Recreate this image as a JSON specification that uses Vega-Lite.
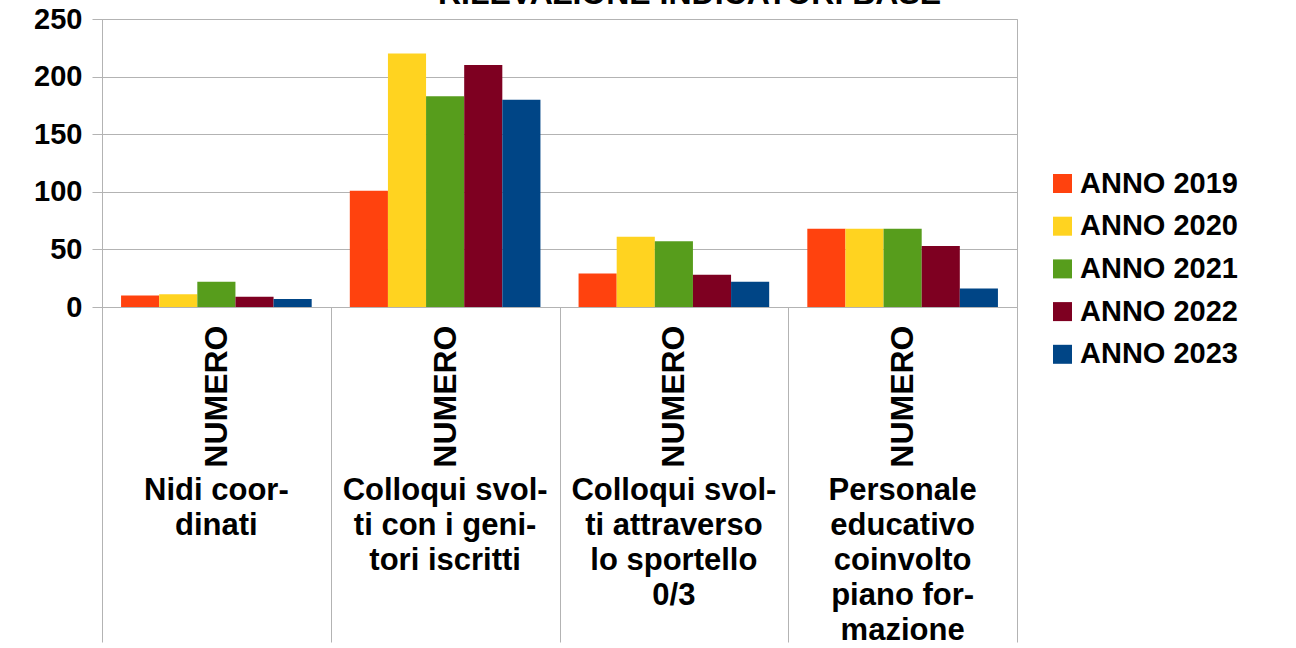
{
  "$schema": "https://vega.github.io/schema/vega-lite/v6.json",
  "width": 915,
  "height": 288,
  "autosize": {"type": "none"},
  "padding": {"left": 102, "top": 19, "right": 279, "bottom": 341},
  "background": "white",
  "config": {
    "font": "Liberation Sans",
    "view": {"stroke": "#b3b3b3", "strokeWidth": 1}
  },
  "data": {
    "values": [
      {"categoria": "Nidi coor-|dinati", "anno": "ANNO 2019", "valore": 10},
      {"categoria": "Nidi coor-|dinati", "anno": "ANNO 2020", "valore": 11},
      {"categoria": "Nidi coor-|dinati", "anno": "ANNO 2021", "valore": 22},
      {"categoria": "Nidi coor-|dinati", "anno": "ANNO 2022", "valore": 9},
      {"categoria": "Nidi coor-|dinati", "anno": " ANNO 2023", "valore": 7},
      {"categoria": "Colloqui svol-|ti con i geni-|tori iscritti", "anno": "ANNO 2019", "valore": 101},
      {"categoria": "Colloqui svol-|ti con i geni-|tori iscritti", "anno": "ANNO 2020", "valore": 220},
      {"categoria": "Colloqui svol-|ti con i geni-|tori iscritti", "anno": "ANNO 2021", "valore": 183},
      {"categoria": "Colloqui svol-|ti con i geni-|tori iscritti", "anno": "ANNO 2022", "valore": 210},
      {"categoria": "Colloqui svol-|ti con i geni-|tori iscritti", "anno": " ANNO 2023", "valore": 180},
      {"categoria": "Colloqui svol-|ti attraverso|lo sportello|0/3", "anno": "ANNO 2019", "valore": 29},
      {"categoria": "Colloqui svol-|ti attraverso|lo sportello|0/3", "anno": "ANNO 2020", "valore": 61},
      {"categoria": "Colloqui svol-|ti attraverso|lo sportello|0/3", "anno": "ANNO 2021", "valore": 57},
      {"categoria": "Colloqui svol-|ti attraverso|lo sportello|0/3", "anno": "ANNO 2022", "valore": 28},
      {"categoria": "Colloqui svol-|ti attraverso|lo sportello|0/3", "anno": " ANNO 2023", "valore": 22},
      {"categoria": "Personale|educativo|coinvolto|piano for-|mazione", "anno": "ANNO 2019", "valore": 68},
      {"categoria": "Personale|educativo|coinvolto|piano for-|mazione", "anno": "ANNO 2020", "valore": 68},
      {"categoria": "Personale|educativo|coinvolto|piano for-|mazione", "anno": "ANNO 2021", "valore": 68},
      {"categoria": "Personale|educativo|coinvolto|piano for-|mazione", "anno": "ANNO 2022", "valore": 53},
      {"categoria": "Personale|educativo|coinvolto|piano for-|mazione", "anno": " ANNO 2023", "valore": 16}
    ]
  },
  "layer": [
    {
      "mark": {"type": "bar"},
      "encoding": {
        "x": {
          "field": "categoria",
          "type": "nominal",
          "sort": null,
          "scale": {"paddingInner": 0, "paddingOuter": 0},
          "axis": {
            "title": null,
            "orient": "bottom",
            "labelExpr": "datum.label == '' ? '' : 'NUMERO'",
            "labelAngle": -90,
            "labelAlign": "right",
            "labelBaseline": "middle",
            "labelFont": "Liberation Sans",
            "labelFontSize": 32,
            "labelFontWeight": "bold",
            "labelColor": "black",
            "labelPadding": -317,
            "labelLimit": 0,
            "labelOverlap": false,
            "tickBand": "extent",
            "tickSize": 335,
            "tickColor": "#b3b3b3",
            "tickWidth": 1,
            "domainColor": "#b3b3b3",
            "domainWidth": 1,
            "grid": false
          }
        },
        "xOffset": {
          "field": "anno",
          "type": "nominal",
          "sort": ["ANNO 2019", "ANNO 2020", "ANNO 2021", "ANNO 2022", " ANNO 2023"],
          "scale": {"paddingInner": 0, "paddingOuter": 0.5}
        },
        "y": {
          "field": "valore",
          "type": "quantitative",
          "scale": {"domain": [0, 250]},
          "axis": {
            "title": null,
            "values": [0, 50, 100, 150, 200, 250],
            "labelFont": "Liberation Sans",
            "labelFontSize": 29,
            "labelFontWeight": "bold",
            "labelColor": "black",
            "labelPadding": 10,
            "tickSize": 10,
            "tickColor": "#b3b3b3",
            "domainColor": "#b3b3b3",
            "gridColor": "#b3b3b3",
            "gridWidth": 1
          }
        },
        "color": {
          "field": "anno",
          "type": "nominal",
          "scale": {
            "domain": ["ANNO 2019", "ANNO 2020", "ANNO 2021", "ANNO 2022", " ANNO 2023"],
            "range": ["#ff420e", "#ffd320", "#579d1c", "#7e0021", "#004586"]
          },
          "legend": {
            "title": null,
            "orient": "none",
            "legendX": 946,
            "legendY": 150,
            "padding": 0,
            "symbolType": "square",
            "symbolSize": 361,
            "symbolStrokeWidth": 0,
            "labelFont": "Liberation Sans",
            "labelFontSize": 29,
            "labelFontWeight": "bold",
            "labelColor": "black",
            "labelOffset": 3,
            "labelLimit": 0,
            "rowPadding": 12.7
          }
        }
      }
    },
    {
      "mark": {"type": "bar", "opacity": 0},
      "encoding": {
        "x": {
          "field": "categoria",
          "type": "nominal",
          "sort": null,
          "axis": {
            "title": null,
            "orient": "bottom",
            "labelExpr": "split(datum.label, '|')",
            "labelAngle": 0,
            "labelAlign": "center",
            "labelBaseline": "alphabetic",
            "labelFont": "Liberation Sans",
            "labelFontSize": 31,
            "labelFontWeight": "bold",
            "labelColor": "black",
            "labelLineHeight": 35,
            "labelPadding": 192,
            "labelLimit": 0,
            "labelOverlap": false,
            "ticks": false,
            "domain": false,
            "grid": false
          }
        }
      }
    },
    {
      "mark": {"type": "bar", "opacity": 0},
      "encoding": {
        "x": {
          "field": "categoria",
          "type": "nominal",
          "sort": null,
          "axis": {
            "orient": "top",
            "title": "RILEVAZIONE INDICATORI BASE",
            "titleFont": "Liberation Sans",
            "titleFontSize": 32,
            "titleFontWeight": "bold",
            "titleColor": "black",
            "titleAlign": "center",
            "titleBaseline": "alphabetic",
            "titleAngle": 0,
            "titleX": 587,
            "titleY": -16,
            "labels": false,
            "ticks": false,
            "domain": false,
            "grid": false
          }
        }
      }
    }
  ],
  "resolve": {"axis": {"x": "independent"}}
}
